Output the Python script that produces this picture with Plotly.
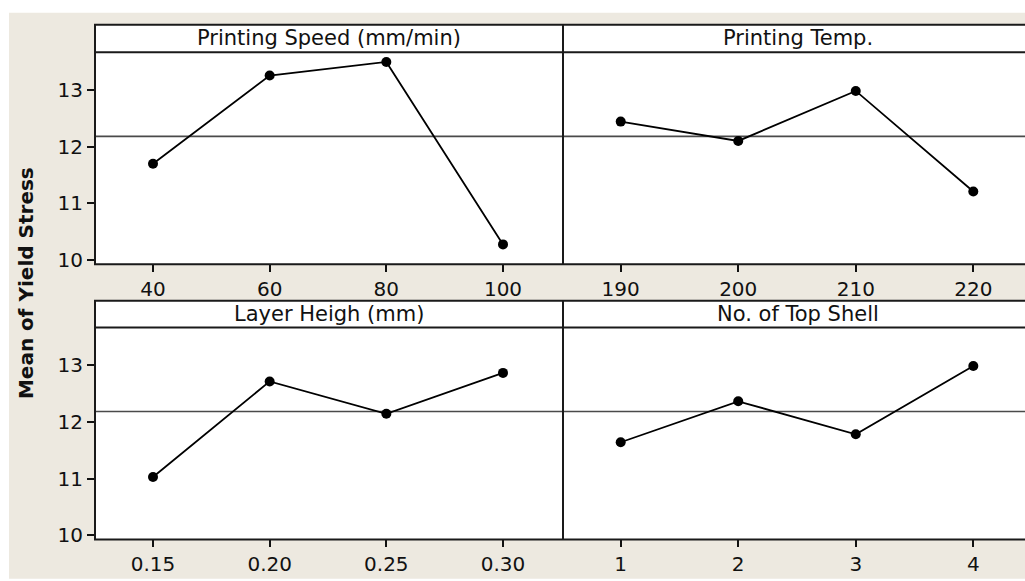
import plotly.graph_objects as go

# ---- data ----
speed = [40, 60, 80, 100]
speed_labels = ["40", "60", "80", "100"]
speed_mean = [11.70, 13.25, 13.49, 10.28]

temp = [190, 200, 210, 220]
temp_labels = ["190", "200", "210", "220"]
temp_mean = [12.44, 12.10, 12.98, 11.21]

layer = [0.15, 0.20, 0.25, 0.30]
layer_labels = ["0.15", "0.20", "0.25", "0.30"]
layer_mean = [11.03, 12.71, 12.14, 12.86]

shell = [1, 2, 3, 4]
shell_labels = ["1", "2", "3", "4"]
shell_mean = [11.64, 12.36, 11.78, 12.98]

grand_mean = 12.18
y_ticks = [10, 11, 12, 13]
panel_titles = ["Printing Speed (mm/min)", "Printing Temp.", "Layer Heigh (mm)", "No. of Top Shell"]
y_title = "Mean of Yield Stress"

# ---- layout geometry (pixels) ----
W, H = 1025, 581
BEIGE = "#EDE9E0"
FONT = "DejaVu Sans"
TICK_SIZE = 20
STRIP_SIZE = 21
xl0, xmid, xr1 = 95, 563, 1032
rows = [  # (strip top, plot top, plot bottom)
    (25, 53, 268),
    (305, 332, 547),
]
yrange = [9.93, 13.66]

def px(x):
    return x / W

def py(y):
    return 1 - y / H

def xrange_for(vals, left, right, first_px, last_px):
    scale = (last_px - first_px) / (vals[-1] - vals[0])
    return [vals[0] - (first_px - left) / scale, vals[0] + (right - first_px) / scale]

first_px, last_px_l = 153, 503
first_px_r, last_px_r = 620.7, 973.3

panels = [
    (speed, speed_mean, speed_labels, 0, "left"),
    (temp, temp_mean, temp_labels, 0, "right"),
    (layer, layer_mean, layer_labels, 1, "left"),
    (shell, shell_mean, shell_labels, 1, "right"),
]

fig = go.Figure()
shapes = []
annotations = []

# background
shapes.append(dict(type="rect", xref="paper", yref="paper", x0=px(9), x1=1.01, y0=-0.01, y1=py(13),
                   fillcolor=BEIGE, line=dict(width=0), layer="below"))
for (st, pt, pb) in rows:
    shapes.append(dict(type="rect", xref="paper", yref="paper", x0=px(xl0), x1=px(xr1), y0=py(pb), y1=py(st),
                       fillcolor="white", line=dict(width=0), layer="below"))

layout_axes = {}
for i, (xs, ys, labels, row, side) in enumerate(panels):
    n = i + 1
    xa = "xaxis" if n == 1 else f"xaxis{n}"
    ya = "yaxis" if n == 1 else f"yaxis{n}"
    xref = "x" if n == 1 else f"x{n}"
    yref = "y" if n == 1 else f"y{n}"
    st, pt, pb = rows[row]
    if side == "left":
        dom = [px(xl0), px(xmid)]
        rng = xrange_for(xs, xl0, xmid, first_px, last_px_l)
    else:
        dom = [px(xmid), 1.0]
        rng = xrange_for(xs, xmid, W, first_px_r, last_px_r)
    fig.add_trace(go.Scatter(
        x=xs, y=ys, mode="lines+markers", xaxis=xref, yaxis=yref,
        line=dict(color="black", width=1.8),
        marker=dict(color="black", size=10),
        showlegend=False, hoverinfo="x+y", cliponaxis=False,
    ))
    layout_axes[xa] = dict(
        domain=dom, range=rng, anchor=yref, tickmode="array", tickvals=xs, ticktext=labels,
        ticks="outside", ticklen=7, tickwidth=2, tickcolor="#111",
        showgrid=False, zeroline=False, showline=False,
        tickfont=dict(family=FONT, size=TICK_SIZE, color="#111"), fixedrange=True,
    )
    layout_axes[ya] = dict(
        domain=[py(pb), py(pt)], range=yrange, anchor=xref, tickvals=y_ticks,
        ticks="outside" if side == "left" else "", ticklen=7, tickwidth=2, tickcolor="#111",
        showticklabels=(side == "left"),
        showgrid=False, zeroline=False, showline=False,
        tickfont=dict(family=FONT, size=TICK_SIZE, color="#111"), fixedrange=True,
    )
    # strip title
    cx = (xl0 + xmid) / 2 if side == "left" else (xmid + xr1) / 2
    annotations.append(dict(
        text=panel_titles[i], xref="paper", yref="paper", x=px(cx), y=py((st + pt) / 2),
        xanchor="center", yanchor="middle", showarrow=False,
        font=dict(family=FONT, size=STRIP_SIZE, color="#111"),
    ))

# grand mean reference lines and frames
for r, (st, pt, pb) in enumerate(rows):
    yref = "y" if r == 0 else "y3"
    shapes.append(dict(type="line", xref="paper", yref=yref, x0=px(xl0), x1=px(xr1),
                       y0=grand_mean, y1=grand_mean, line=dict(color="#4a4a4a", width=1.6), layer="below"))
    shapes.append(dict(type="rect", xref="paper", yref="paper", x0=px(xl0), x1=px(xr1), y0=py(pb), y1=py(st),
                       line=dict(color="#1a1a1a", width=2), fillcolor="rgba(0,0,0,0)", layer="above"))
    shapes.append(dict(type="line", xref="paper", yref="paper", x0=px(xl0), x1=px(xr1), y0=py(pt), y1=py(pt),
                       line=dict(color="#1a1a1a", width=2), layer="above"))
    shapes.append(dict(type="line", xref="paper", yref="paper", x0=px(xmid), x1=px(xmid), y0=py(pb), y1=py(st),
                       line=dict(color="#1a1a1a", width=2), layer="above"))

annotations.append(dict(
    text="<b>" + y_title + "</b>", xref="paper", yref="paper", x=px(26), y=py(287),
    xanchor="center", yanchor="middle", textangle=-90, showarrow=False,
    font=dict(family=FONT, size=20, color="#111"),
))

fig.update_layout(
    width=W, height=H, margin=dict(l=0, r=0, t=0, b=0, pad=0),
    paper_bgcolor="white", plot_bgcolor="rgba(0,0,0,0)",
    shapes=shapes, annotations=annotations, showlegend=False,
    **layout_axes,
)

fig.write_html("out.html", config={"displayModeBar": False})
